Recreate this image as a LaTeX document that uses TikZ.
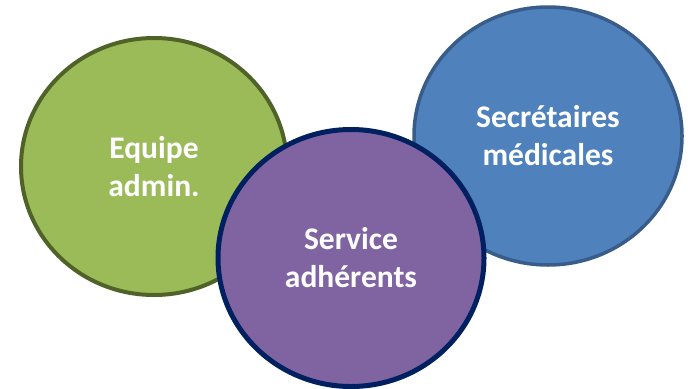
\documentclass[tikz,border=0pt]{standalone}
\usepackage{fontspec}
\setmainfont{Carlito}
\usepackage{tikz}
\usetikzlibrary{shapes.geometric}
\definecolor{greenfill}{HTML}{9BBB59}
\definecolor{greenline}{HTML}{4F6228}
\definecolor{bluefill}{HTML}{4F81BD}
\definecolor{blueline}{HTML}{385D8A}
\definecolor{purplefill}{HTML}{8064A2}
\definecolor{purpleline}{HTML}{002060}

\begin{document}
\begin{tikzpicture}[x=1pt,y=-1pt]
			\tikzstyle{every node}=[font=\fontsize{31.5}{38}\selectfont\bfseries, text=white, align=center]
			\tikzstyle{bubble}=[ellipse, draw, inner sep=0pt]
			\useasboundingbox (0,0) rectangle (692,388);
			
			% left
			\node[bubble, fill=greenfill, draw=greenline, line width=4pt, minimum width=266pt, minimum height=257pt] (admin) at (154,166.5) {Equipe\\admin.};
			
			% right
			\node[bubble, fill=bluefill, draw=blueline, line width=3.5pt, minimum width=268pt, minimum height=258pt] (secr) at (548,136) {Secrétaires\\médicales};
			
			% middle, on top
			\node[bubble, fill=purplefill, draw=purpleline, line width=5pt, minimum width=266pt, minimum height=257pt] (adh) at (351,258) {Service\\adhérents};
			
\end{tikzpicture}
\end{document}
